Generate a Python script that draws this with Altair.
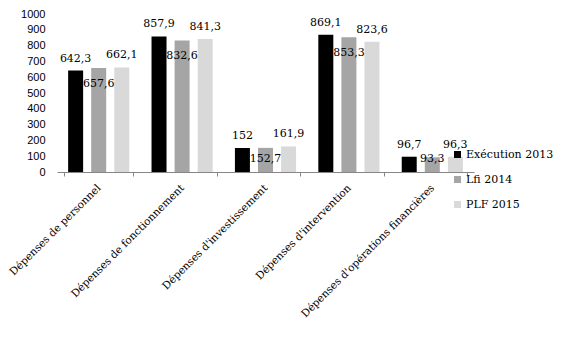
import altair as alt
import pandas as pd

categories = [
    "Dépenses de personnel",
    "Dépenses de fonctionnement",
    "Dépenses d'investissement",
    "Dépenses d'intervention",
    "Dépenses d'opérations financières",
]
series = ["Exécution 2013", "Lfi 2014", "PLF 2015"]
exec_2013 = [642.3, 857.9, 152, 869.1, 96.7]
lfi_2014 = [657.6, 832.6, 152.7, 853.3, 93.3]
plf_2015 = [662.1, 841.3, 161.9, 823.6, 96.3]
colors = ["#000000", "#a5a5a5", "#d9d9d9"]
y_ticks = list(range(0, 1001, 100))

rows = []
for s, vals in zip(series, [exec_2013, lfi_2014, plf_2015]):
    for c, v in zip(categories, vals):
        lab = f"{v:.1f}"
        if lab.endswith(".0"):
            lab = lab[:-2]
        rows.append({"cat": c, "series": s, "value": v, "label": lab.replace(".", ",")})
df = pd.DataFrame(rows)

SERIF = "DejaVu Serif"

x = alt.X(
    "cat:N", sort=categories, title=None,
    scale=alt.Scale(paddingInner=0.17, paddingOuter=0.085),
    axis=alt.Axis(
        labelAngle=-45, labelAlign="right", labelBaseline="middle",
        labelFont=SERIF, labelFontSize=10.5, labelColor="black",
        tickBand="extent", domainColor="#868686", tickColor="#868686",
        tickSize=4, labelPadding=10, labelLimit=400,
    ),
)
xo = alt.XOffset("series:N", sort=series,
                 scale=alt.Scale(paddingInner=0.35, paddingOuter=0.175))
y_axis = alt.Axis(values=y_ticks, format="d", grid=False, domain=False, ticks=False,
                  labelFont="Liberation Sans", labelFontSize=11,
                  labelPadding=12, labelColor="black")
y = alt.Y("value:Q", scale=alt.Scale(domain=[0, 1000]), title=None, axis=y_axis)

base = alt.Chart(df)

bars = base.mark_bar().encode(
    x=x, xOffset=xo, y=y,
    color=alt.Color(
        "series:N", sort=series,
        scale=alt.Scale(domain=series, range=colors),
        legend=alt.Legend(
            orient="none", legendX=395, legendY=135, title=None,
            symbolType="square", symbolSize=49, symbolStrokeWidth=0,
            labelFont=SERIF, labelFontSize=11, labelColor="black",
            rowPadding=13, labelOffset=3, padding=0,
        ),
    ),
)

text_above = base.transform_filter(alt.datum.series != "Lfi 2014").mark_text(
    dy=-12, font=SERIF, fontSize=11, baseline="middle", color="black"
).encode(x=x, xOffset=xo, y=y, text="label:N")

text_below = base.transform_filter(alt.datum.series == "Lfi 2014").transform_calculate(
    ly="max(datum.value, 185)"
).mark_text(
    dy=16, font=SERIF, fontSize=11, baseline="middle", color="black"
).encode(x=x, xOffset=xo,
         y=alt.Y("ly:Q", scale=alt.Scale(domain=[0, 1000]), title=None, axis=y_axis),
         text="label:N")

chart = alt.layer(bars, text_above, text_below).properties(
    width=417, height=158,
    autosize=alt.AutoSizeParams(type="none"),
    padding={"left": 49, "top": 6, "right": 84, "bottom": 170},
    background="white",
).configure_view(stroke=None)

chart.save("out.html", embed_options={"renderer": "svg", "actions": False})
